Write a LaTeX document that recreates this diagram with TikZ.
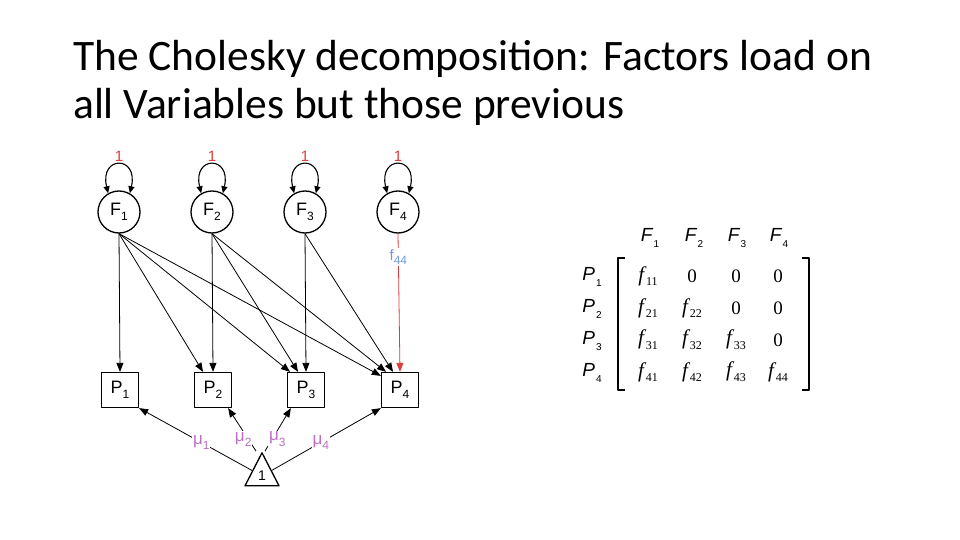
\documentclass[tikz,border=0pt]{standalone}
\usepackage{fontspec}
\setmainfont{Liberation Serif}
\setsansfont{Liberation Sans}
\newfontfamily\slidefont{Carlito}
\usetikzlibrary{arrows.meta,shapes.geometric}
\definecolor{pathRed}{HTML}{DC3C3C}
\definecolor{meanPink}{HTML}{BC6FC4}
\definecolor{loadBlue}{HTML}{6F9BDB}
\newcommand{\lowsub}[1]{\raisebox{-0.3em}{\upshape\fontsize{12}{12}\selectfont #1}}
\newcommand{\hdrsub}[1]{\kern1pt\raisebox{-0.35em}{\upshape\fontsize{10}{10}\selectfont #1}}
\newcommand{\fent}[1]{{\fontsize{21}{21}\selectfont\textit{f}}\kern-0.5pt\raisebox{-0.25em}{\fontsize{12}{12}\selectfont #1}}

\begin{document}
\begin{tikzpicture}[x=1pt, y=-1pt, line join=round,
  latent/.style={circle, draw, line width=1.3pt, minimum size=42pt, inner sep=0pt,
    font=\sffamily\fontsize{18}{18}\selectfont},
  manifest/.style={rectangle, draw, line width=1.3pt, minimum width=37pt, minimum height=35pt,
    inner sep=0pt, font=\sffamily\fontsize{18}{18}\selectfont},
  load/.style={line width=0.8pt, -{Triangle[length=9pt,width=7pt]}},
  var/.style={line width=1.1pt, {Triangle[length=7pt,width=6pt]}-{Triangle[length=7pt,width=6pt]}},
  varlabel/.style={text=pathRed, inner sep=1pt, yshift=2pt, font=\sffamily\fontsize{15}{15}\selectfont},
  meanlabel/.style={text=meanPink, fill=white, inner sep=1pt, font=\sffamily\fontsize{17}{17}\selectfont},
  hdr/.style={font=\sffamily\itshape\fontsize{19}{19}\selectfont},
  ent/.style={font=\rmfamily\fontsize{19}{19}\selectfont}]
\useasboundingbox (0,0) rectangle (960,540);
% ---------------- title ----------------
\node[anchor=base west, inner sep=0pt, font=\slidefont\fontsize{43.5}{43.5}\selectfont] (title1) at (73,71)
  {The Cholesky decomposition: Factors load on};
\node[anchor=base west, inner sep=0pt, font=\slidefont\fontsize{43.5}{43.5}\selectfont] (title2) at (73,119)
  {all Variables but those previous};
% ---------------- path diagram ----------------
% factors on top, variables below, mean triangle at the bottom
\node[latent] (F1) at (119,212) {F\lowsub{1}};
\node[latent] (F2) at (212,212) {F\lowsub{2}};
\node[latent] (F3) at (305,212) {F\lowsub{3}};
\node[latent] (F4) at (398,212) {F\lowsub{4}};
\node[manifest] (P1) at (120,390) {P\lowsub{1}};
\node[manifest] (P2) at (213,390) {P\lowsub{2}};
\node[manifest] (P3) at (306,390) {P\lowsub{3}};
\node[manifest] (P4) at (400,390) {P\lowsub{4}};
\node[isosceles triangle, isosceles triangle stretches, shape border rotate=90, draw,
  line width=1.3pt, minimum width=34pt, minimum height=33pt, inner sep=0pt,
  font=\sffamily\fontsize{14}{14}\selectfont] (mean) at (262,476) {1};
% variances fixed at 1 (self loops)
\draw[var] (F1.120) .. controls +(-9,-38) and +(9,-38) .. (F1.60) node[midway, above, varlabel] (v1) {1};
\draw[var] (F2.120) .. controls +(-9,-38) and +(9,-38) .. (F2.60) node[midway, above, varlabel] (v2) {1};
\draw[var] (F3.120) .. controls +(-9,-38) and +(9,-38) .. (F3.60) node[midway, above, varlabel] (v3) {1};
\draw[var] (F4.120) .. controls +(-9,-38) and +(9,-38) .. (F4.60) node[midway, above, varlabel] (v4) {1};
% loadings: each factor on its own and all later variables
\draw[load] (F1.south) -- (P1.north);
\draw[load] (F1.south) -- ([xshift=-10pt]P2.north);
\draw[load] (F1.south) -- ([xshift=-16pt]P3.north);
\draw[load] (F1.south) -- ([yshift=-4pt]P4.north west);
\draw[load] (F2.south) -- (P2.north);
\draw[load] (F2.south) -- ([xshift=-8pt]P3.north);
\draw[load] (F2.south) -- ([xshift=-14pt]P4.north);
\draw[load] (F3.south) -- (P3.north);
\draw[load] (F3.south) -- ([xshift=-7pt]P4.north);
\draw[load, pathRed] (F4.south) -- node[pos=0.17, fill=white, inner sep=1pt, text=loadBlue,
  font=\sffamily\fontsize{15}{15}\selectfont] (f44) {f\lowsub{44}} (P4.north);
% means
\draw[load] (mean) -- node[meanlabel, pos=0.45] (mu1) {μ\lowsub{1}} (P1.south east);
\draw[load] ([xshift=-6pt]mean.apex) -- node[meanlabel, pos=0.28, xshift=-5pt] (mu2) {μ\lowsub{2}} ([xshift=-4pt]P2.south east);
\draw[load] ([xshift=3pt]mean.apex) -- node[meanlabel, pos=0.28, xshift=5pt] (mu3) {μ\lowsub{3}} ([xshift=4pt]P3.south west);
\draw[load] (mean) -- node[meanlabel, pos=0.45] (mu4) {μ\lowsub{4}} (P4.south west);
% ---------------- loading matrix ----------------
\node[hdr] (cF1) at (650,238) {F\hdrsub{1}};
\node[hdr] (cF2) at (694,238) {F\hdrsub{2}};
\node[hdr] (cF3) at (737,238) {F\hdrsub{3}};
\node[hdr] (cF4) at (779,238) {F\hdrsub{4}};
\node[hdr] (rP1) at (592,277) {P\hdrsub{1}};
\node[hdr] (rP2) at (592,309) {P\hdrsub{2}};
\node[hdr] (rP3) at (592,341) {P\hdrsub{3}};
\node[hdr] (rP4) at (592,373) {P\hdrsub{4}};
\draw[line width=1.1pt] (625,258) -- (618,258) -- (618,390) -- (625,390);
\draw[line width=1.1pt] (802,258) -- (809,258) -- (809,390) -- (802,390);
\node[ent] (m11) at (648,276) {\fent{11}};
\node[ent] (m12) at (692,276) {0};
\node[ent] (m13) at (736,276) {0};
\node[ent] (m14) at (778,276) {0};
\node[ent] (m21) at (648,308) {\fent{21}};
\node[ent] (m22) at (692,308) {\fent{22}};
\node[ent] (m23) at (736,308) {0};
\node[ent] (m24) at (778,308) {0};
\node[ent] (m31) at (648,340) {\fent{31}};
\node[ent] (m32) at (692,340) {\fent{32}};
\node[ent] (m33) at (736,340) {\fent{33}};
\node[ent] (m34) at (778,340) {0};
\node[ent] (m41) at (648,372) {\fent{41}};
\node[ent] (m42) at (692,372) {\fent{42}};
\node[ent] (m43) at (736,372) {\fent{43}};
\node[ent] (m44) at (778,372) {\fent{44}};
\end{tikzpicture}
\end{document}
